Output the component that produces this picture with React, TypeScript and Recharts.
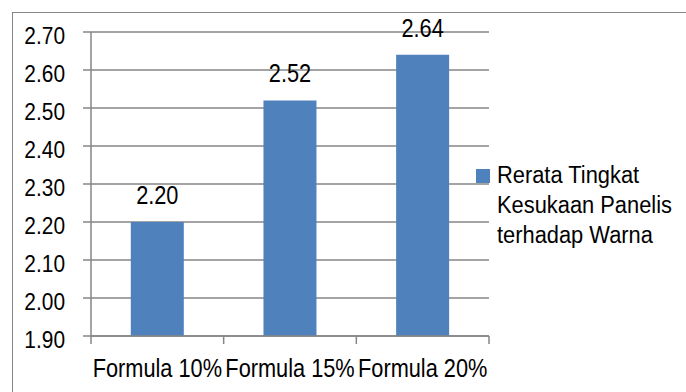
import { BarChart, Bar, XAxis, YAxis, CartesianGrid, Legend, LabelList } from "recharts";

const formulas = ["Formula 10%", "Formula 15%", "Formula 20%"];
const rerataWarna = [2.2, 2.52, 2.64];
const yTicks = [1.9, 2.0, 2.1, 2.2, 2.3, 2.4, 2.5, 2.6, 2.7];
const seriesName = "Rerata Tingkat Kesukaan Panelis terhadap Warna";
const legendLines = ["Rerata Tingkat", "Kesukaan Panelis", "terhadap Warna"];

const data = formulas.map((name, i) => ({ name, value: rerataWarna[i] }));

const FONT = "'Liberation Sans', Arial, sans-serif";
const GRID = "#868686";
const BLUE = "#4f81bd";
const SQUEEZE = 0.87; // narrow face look
const LEGEND_SQUEEZE = 0.95;

const W = 686;
const H = 392;
const M = { top: 32, right: 197, bottom: 0, left: 0 };
const Y_W = 91;
const PLOT_W = W - M.left - M.right - Y_W;
const BAND = PLOT_W / formulas.length;

function NarrowText({ x, y, size, anchor, children }: any) {
  return (
    <text
      transform={`translate(${x},${y}) scale(${SQUEEZE},1)`}
      x={0}
      y={0}
      textAnchor={anchor}
      fontSize={size}
      fill="#000"
      fontFamily={FONT}
    >
      {children}
    </text>
  );
}

// category labels centred in each band, tick marks on the band edges
function XTick(props: any) {
  const { x, y, payload, index } = props;
  const half = BAND / 2;
  const last = index === formulas.length - 1;
  return (
    <g>
      <line x1={x - half} x2={x - half} y1={y} y2={y + 8} stroke={GRID} strokeWidth={1.5} />
      {last && <line x1={x + half} x2={x + half} y1={y} y2={y + 8} stroke={GRID} strokeWidth={1.5} />}
      <NarrowText x={x} y={y + 41} size={25} anchor="middle">
        {payload.value}
      </NarrowText>
    </g>
  );
}

function YTick(props: any) {
  const { x, y, payload } = props;
  return (
    <NarrowText x={x} y={y + 12} size={24} anchor="end">
      {Number(payload.value).toFixed(2)}
    </NarrowText>
  );
}

function ValueLabel(props: any) {
  const { x, y, width, value } = props;
  return (
    <NarrowText x={Number(x) + Number(width) / 2} y={Number(y) - 18} size={25} anchor="middle">
      {Number(value).toFixed(2)}
    </NarrowText>
  );
}

function LegendBox() {
  return (
    <div style={{ position: "relative", width: 0, height: 0 }}>
      <div style={{ position: "absolute", left: 0, top: 0, whiteSpace: "nowrap", fontFamily: FONT, fontSize: 23, color: "#000" }}>
        <div style={{ position: "absolute", left: 0, top: 10, width: 14, height: 14, background: BLUE }} />
        <div
          style={{
            position: "absolute",
            left: 21,
            top: 1,
            lineHeight: "30px",
            transform: `scaleX(${LEGEND_SQUEEZE})`,
            transformOrigin: "left top",
          }}
        >
          {legendLines.map((l) => (
            <div key={l}>{l}</div>
          ))}
        </div>
      </div>
    </div>
  );
}

export default function App() {
  return (
    <div style={{ position: "fixed", left: 0, top: 0, width: W, height: H, overflow: "hidden", background: "#fff" }}>
      <div style={{ position: "absolute", left: 12, top: 12, width: 800, height: 600, border: `1.5px solid ${GRID}` }} />
      <div style={{ position: "absolute", left: 0, top: 0 }}>
        <BarChart width={W} height={H} data={data} margin={M} barCategoryGap="30%">
          <CartesianGrid vertical={false} stroke={GRID} strokeWidth={1.5} />
          <XAxis
            dataKey="name"
            height={56}
            axisLine={{ stroke: GRID, strokeWidth: 1.5 }}
            tickLine={false}
            tickSize={0}
            tickMargin={0}
            tick={<XTick />}
            interval={0}
          />
          <YAxis
            width={Y_W}
            domain={[1.9, 2.7]}
            ticks={yTicks}
            interval={0}
            axisLine={{ stroke: GRID, strokeWidth: 1.5 }}
            tickLine={{ stroke: GRID, strokeWidth: 1.5 }}
            tickSize={8}
            tickMargin={18}
            tick={<YTick />}
          />
          <Legend
            layout="vertical"
            align="right"
            verticalAlign="top"
            wrapperStyle={{ position: "absolute", left: 476, top: 159, width: 0, height: 0 }}
            content={() => <LegendBox />}
          />
          <Bar dataKey="value" name={seriesName} fill={BLUE} isAnimationActive={false}>
            <LabelList dataKey="value" content={<ValueLabel />} />
          </Bar>
        </BarChart>
      </div>
    </div>
  );
}
